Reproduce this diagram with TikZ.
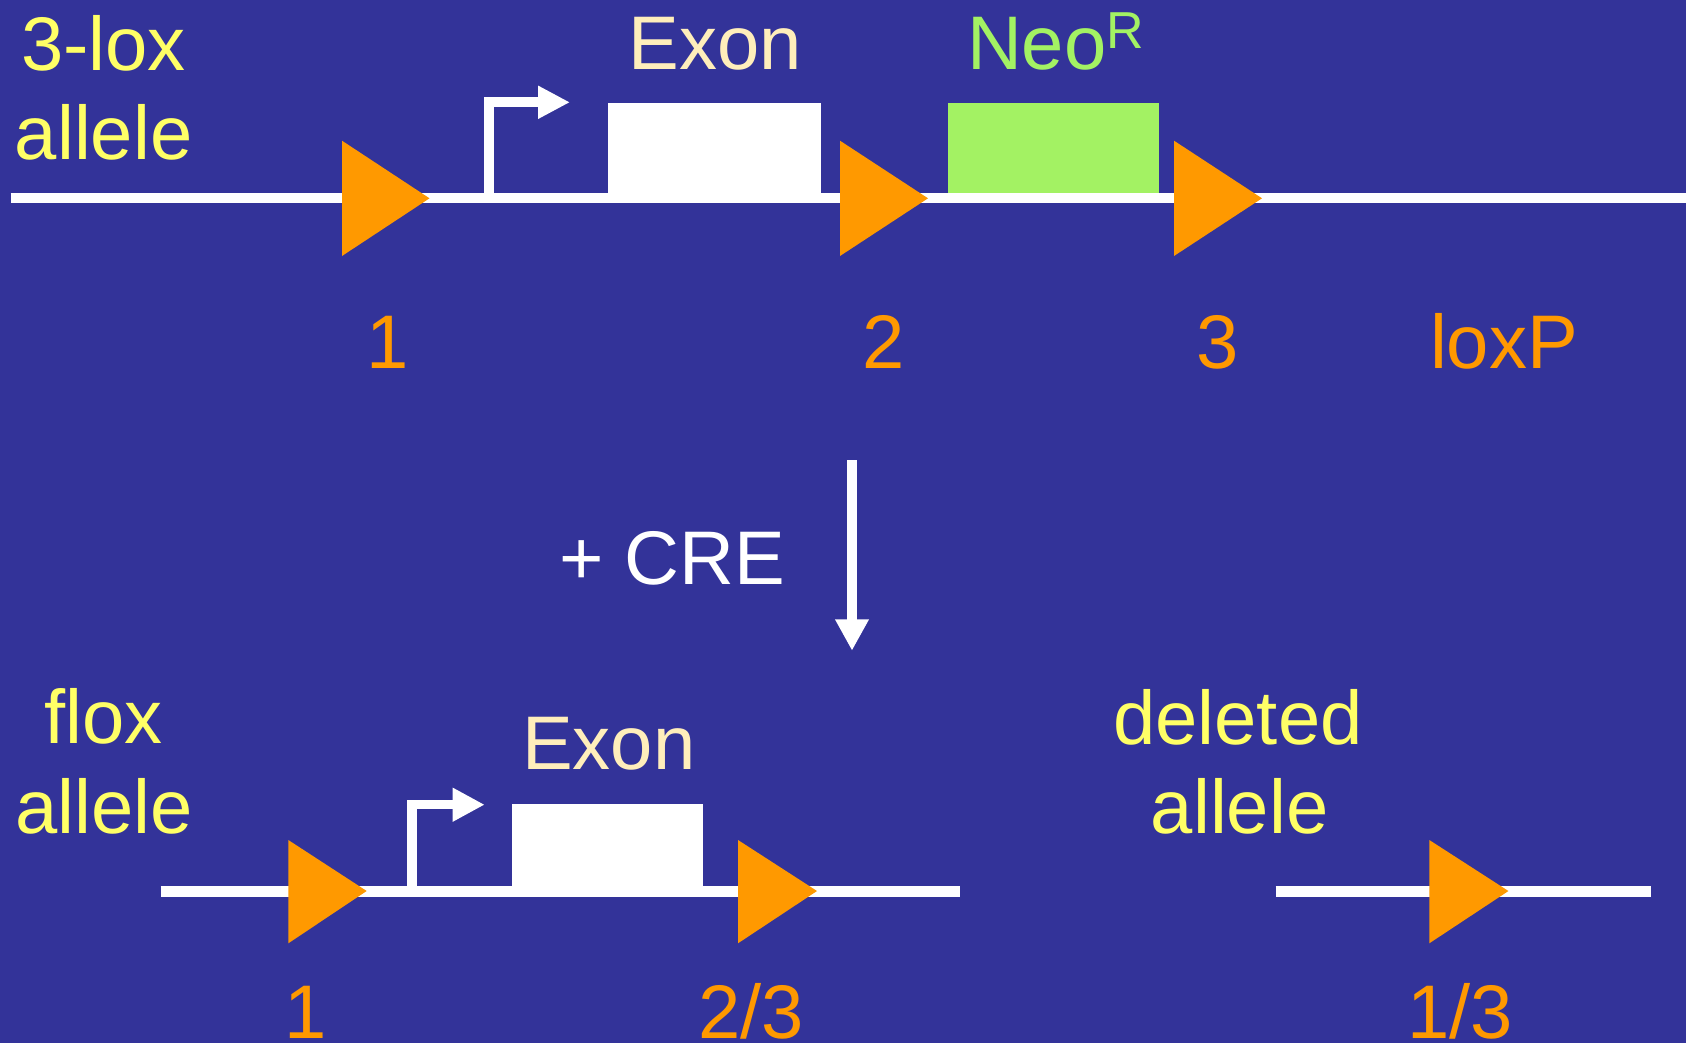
\documentclass[tikz,border=0pt]{standalone}
\usepackage{fontspec}
\setmainfont{Liberation Sans}
\usetikzlibrary{arrows.meta}
\definecolor{slidebg}{HTML}{333399}
\definecolor{labelyellow}{HTML}{FFFF66}
\definecolor{exoncream}{HTML}{FFEEBB}
\definecolor{neogreen}{RGB}{163,242,99}
\definecolor{loxorange}{HTML}{FF9900}
\begin{document}
\begin{tikzpicture}[x=1pt,y=-1pt,
  big/.style={font=\fontsize{76}{80}\selectfont, inner sep=0pt, anchor=base},
  dna/.style={draw=white, line width=10.6pt},
  loxsite/.style={fill=loxorange},
  block/.style={inner sep=0pt, outer sep=0pt, draw=none},
  promoter/.style={draw=white, line join=miter, -{Triangle[width=31pt,length=32pt]}},
]
% slide background and page size
\fill[slidebg] (0,0) rectangle (1686,1043);
\useasboundingbox (0,0) rectangle (1686,1043);

% ---------- 3-lox allele ----------
\coordinate (topL) at (10.7,198);
\coordinate (topR) at (1686,198);
\draw[dna] (topL) -- (topR);

\node[block, fill=white, minimum width=213.4pt, minimum height=95.3pt] (exonA) at (714.7,150.35) {};
\node[block, fill=neogreen, minimum width=211.4pt, minimum height=90pt] (neoA) at (1053.3,148) {};

\coordinate (tssA) at (489,198);
\coordinate (tssAend) at (570,102.3);
\draw[promoter, line width=10pt] (tssA) |- (tssAend);

\fill[loxsite] (342,140.7) -- (429.5,198.3) -- (342,256) -- cycle;
\fill[loxsite] (840,140.7) -- (928,198.3) -- (840,256) -- cycle;
\fill[loxsite] (1174,140.7) -- (1262,198.3) -- (1174,256) -- cycle;

\node[big, labelyellow] (t3lox) at (103.5,70.7) {3-lox};
\node[big, labelyellow] (t3loxb) at (103.7,159.3) {allele};
\node[big, exoncream] (texonA) at (715,69.3) {Exon};
\node[big, neogreen] (tneo) at (1055.5,69.3) {Neo\raisebox{21pt}{\fontsize{52}{52}\selectfont R}};
\node[big, loxorange] (tl1) at (388,368) {1};
\node[big, loxorange] (tl2) at (883.5,368) {2};
\node[big, loxorange] (tl3) at (1217.5,368) {3};
\node[big, loxorange] (tloxp) at (1504,368) {loxP};

% ---------- recombination step ----------
\coordinate (creA) at (852,460);
\coordinate (creB) at (852,650.7);
\draw[white, line width=10.7pt, -{Triangle[width=31.7pt,length=31.4pt]}] (creA) -- (creB);
\node[big, white] (tcre) at (672,584) {+ CRE};

% ---------- flox allele ----------
\coordinate (floxL) at (160.7,891);
\coordinate (floxR) at (959.8,891);
\draw[dna, line width=11pt] (floxL) -- (floxR);

\node[block, fill=white, minimum width=191.9pt, minimum height=87pt] (exonB) at (607.45,847.5) {};

\coordinate (tssB) at (412,891);
\coordinate (tssBend) at (484.7,804.7);
\draw[promoter, line width=9.5pt, -{Triangle[width=31.7pt,length=32pt]}] (tssB) |- (tssBend);

\fill[loxsite] (288.3,840) -- (366.7,891) -- (288.3,943.3) -- cycle;
\fill[loxsite] (738,840) -- (817,891) -- (738,943.3) -- cycle;

\node[big, labelyellow] (tflox) at (103.6,743.3) {flox};
\node[big, labelyellow] (tfloxb) at (104.2,833.3) {allele};
\node[big, exoncream] (texonB) at (608.7,769) {Exon};
\node[big, loxorange] (tb1) at (306,1038.5) {1};
\node[big, loxorange] (tb23) at (751,1038.5) {2/3};

% ---------- deleted allele ----------
\coordinate (delL) at (1275.6,891);
\coordinate (delR) at (1651.2,891);
\draw[dna, line width=11pt] (delL) -- (delR);
\fill[loxsite] (1429.3,840) -- (1508.4,891) -- (1429.3,943.3) -- cycle;

\node[big, labelyellow] (tdel) at (1238,744.3) {deleted};
\node[big, labelyellow] (tdelb) at (1239.7,833.3) {allele};
\node[big, loxorange] (tb13) at (1460,1038.5) {1/3};
\end{tikzpicture}
\end{document}
